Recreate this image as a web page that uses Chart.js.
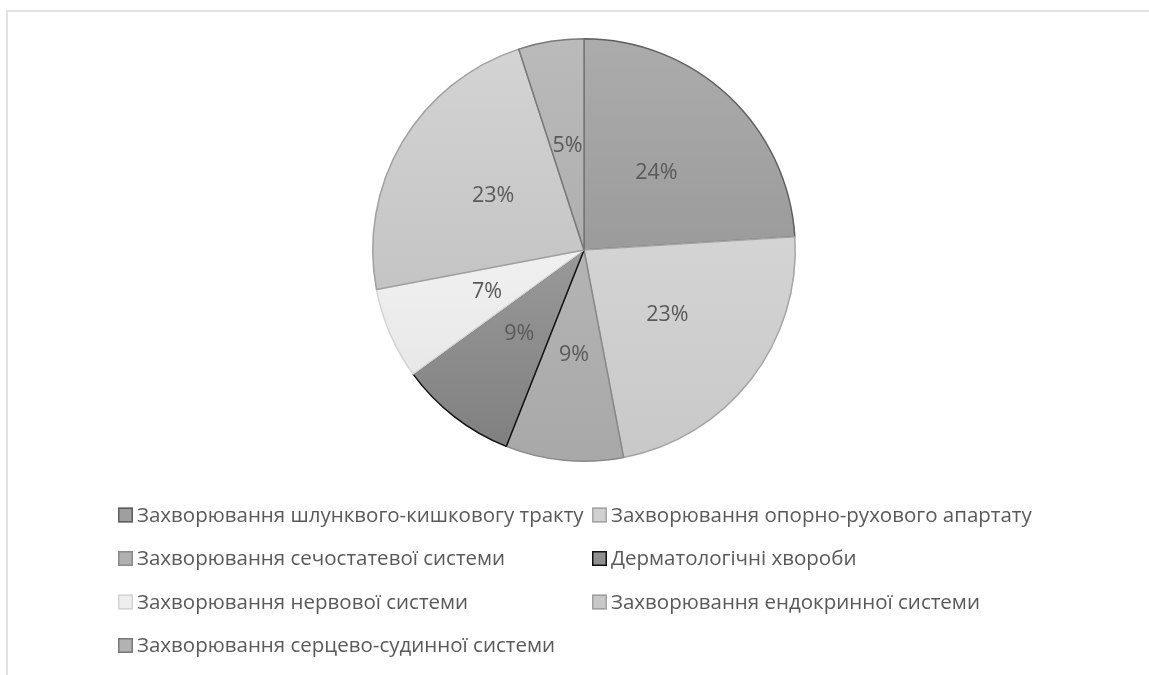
<!DOCTYPE html>
<html>
<head>
<meta charset="utf-8">
<script src="https://cdn.jsdelivr.net/npm/chart.js@4.4.0/dist/chart.umd.min.js"></script>
<style>
  html, body { margin: 0; padding: 0; background: #fff; overflow: hidden; }
  #wrap { position: relative; width: 1149px; height: 675px; }
  #frame { position: absolute; left: 6px; top: 10px; width: 1200px; height: 720px;
           border-left: 2px solid #e2e2e2; border-top: 2px solid #e2e2e2; }
  #pie { position: absolute; left: 0; top: 0; }
</style>
</head>
<body>
<div id="wrap">
  <div id="frame"></div>
  <canvas id="pie" width="1149" height="675"></canvas>
</div>
<script>
const categories = [
  'Захворювання шлунквого-кишковогу тракту',
  'Захворювання опорно-рухового апартату',
  'Захворювання сечостатевої системи',
  'Дерматологічні хвороби',
  'Захворювання нервової системи',
  'Захворювання ендокринної системи',
  'Захворювання серцево-судинної системи'
];
const shares = [24, 23, 9, 9, 7, 23, 5];

// grey shades: gradient top/bottom per slice, plus outline
const fillTop    = ['#acacac', '#dedede', '#c0c0c0', '#b4b4b4', '#ffffff', '#d4d4d4', '#bababa'];
const fillBottom = ['#8a8a8a', '#c8c8c8', '#a8a8a8', '#7e7e7e', '#e2e2e2', '#b9b9b9', '#a4a4a4'];
const legendFill = ['#9f9f9f', '#d0d0d0', '#b0b0b0', '#909090', '#eeeeee', '#c8c8c8', '#b2b2b2'];
const edgeColors = ['#5e5e5e', '#a4a4a4', '#8a8a8a', '#111111', '#d4d4d4', '#a0a0a0', '#787878'];

const FONT = '"Open Sans", "DejaVu Sans", sans-serif';
const TEXT_COLOR = '#595959';

function sliceFill(context) {
  const chart = context.chart;
  const i = context.dataIndex;
  const area = chart.chartArea;
  if (!area) return legendFill[i];
  const g = chart.ctx.createLinearGradient(0, area.top, 0, area.bottom);
  g.addColorStop(0, fillTop[i]);
  g.addColorStop(1, fillBottom[i]);
  return g;
}

// percentage text in the middle of each slice
const sliceLabels = {
  id: 'sliceLabels',
  afterDatasetsDraw(chart) {
    const ctx = chart.ctx;
    const meta = chart.getDatasetMeta(0);
    ctx.save();
    ctx.font = '21.5px ' + FONT;
    ctx.fillStyle = TEXT_COLOR;
    ctx.textAlign = 'center';
    ctx.textBaseline = 'middle';
    meta.data.forEach((arc, i) => {
      const p = arc.tooltipPosition();
      ctx.fillText(chart.data.datasets[0].data[i] + '%', p.x, p.y);
    });
    ctx.restore();
  }
};

// two-column legend under the pie
const gridLegend = {
  id: 'gridLegend',
  afterDraw(chart) {
    const ctx = chart.ctx;
    const left = 118, colStep = 474, top = 515, rowStep = 43.5, box = 15;
    ctx.save();
    ctx.font = '20.5px ' + FONT;
    ctx.textBaseline = 'middle';
    ctx.textAlign = 'left';
    chart.data.labels.forEach((label, i) => {
      const x = left + (i % 2) * colStep;
      const y = top + Math.floor(i / 2) * rowStep;
      ctx.fillStyle = legendFill[i];
      ctx.fillRect(x, y - box / 2, box, box);
      ctx.strokeStyle = edgeColors[i];
      ctx.lineWidth = 1.5;
      ctx.strokeRect(x + 0.75, y - box / 2 + 0.75, box - 1.5, box - 1.5);
      ctx.fillStyle = TEXT_COLOR;
      ctx.fillText(label, x + box + 4, y + 1);
    });
    ctx.restore();
  }
};

new Chart(document.getElementById('pie'), {
  type: 'pie',
  data: {
    labels: categories,
    datasets: [{
      data: shares,
      backgroundColor: sliceFill,
      borderColor: edgeColors,
      borderWidth: 1.5
    }]
  },
  options: {
    responsive: false,
    animation: false,
    layout: { padding: { top: 38, bottom: 213, left: 372, right: 353 } },
    plugins: {
      legend: { display: false },
      tooltip: { enabled: false }
    }
  },
  plugins: [sliceLabels, gridLegend]
});
</script>
</body>
</html>
